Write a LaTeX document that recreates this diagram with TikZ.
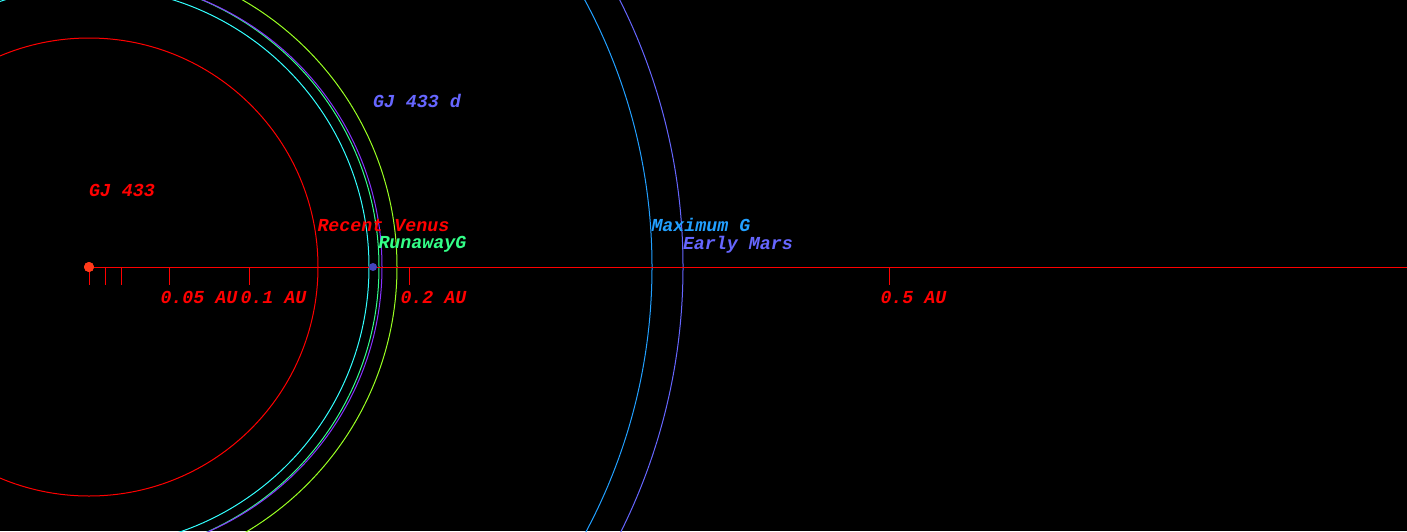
\documentclass[tikz,border=0pt]{standalone}
\usepackage{fontspec}
\newfontfamily\courfont{Liberation Mono}
\definecolor{cRed}{HTML}{FF0000}
\definecolor{cStar}{HTML}{FF3A1A}
\definecolor{cCyan}{HTML}{33FFFF}
\definecolor{cGreen}{HTML}{33FF88}
\definecolor{cPurple}{HTML}{8833FF}
\definecolor{cLime}{HTML}{99FF22}
\definecolor{cMaxG}{HTML}{22A0FF}
\definecolor{cMars}{HTML}{6666FF}
\definecolor{cPlanet}{HTML}{4444BB}
\tikzset{
  lbl/.style={font=\courfont\bfseries\itshape\fontsize{18.3}{20}\selectfont, anchor=base west, inner sep=0pt, outer sep=0pt},
  orb/.style={line width=1pt},
  tick/.style={draw=cRed, line width=1pt}
}
\begin{document}
\begin{tikzpicture}[x=1pt,y=-1pt]
\useasboundingbox (0,0) rectangle (1407,531);
\fill[black] (0,0) rectangle (1407,531);
\begin{scope}
\clip (0,0) rectangle (1407,531);
% habitable zone circles
\draw[orb, cRed] (89,267) circle (229);
\draw[orb, cCyan] (89,267) circle (280);
\draw[orb, cGreen] (89,267) circle (290);
\draw[orb, cPurple] (91.5,267) ellipse (290.5 and 289);
\draw[orb, cLime] (89,267) circle (308);
\draw[orb, cMaxG] (89,267) circle (563);
\draw[orb, cMars] (89,267) circle (594);
\end{scope}
% axis
\coordinate (axend) at (1407,267);
\node[circle, fill=cStar, minimum size=10pt, inner sep=0pt] (star) at (89,267) {};
\draw[cRed, line width=1pt] (star.center) -- (axend);
\foreach \x/\n in {89/t0,105/t1,121/t2,169/t3,249/t4,409/t5,889/t6}{
  \coordinate (\n a) at (\x,267);
  \coordinate (\n b) at (\x,285);
  \draw[tick] (\n a) -- (\n b);
}
\node[circle, fill=cStar, minimum size=10pt, inner sep=0pt] at (89,267) {};
\node[circle, fill=cPlanet, minimum size=8pt, inner sep=0pt] (planet) at (373,267) {};
% labels
\node[lbl, text=cRed] (starlbl) at (89,196) {GJ 433};
\node[lbl, text=cMars] (planetlbl) at (373,107) {GJ 433 d};
\node[lbl, text=cRed] (rv) at (317.5,231) {Recent Venus};
\node[lbl, text=cGreen] (rg) at (378.5,248.5) {RunawayG};
\node[lbl, text=cMaxG] (mg) at (651.5,231) {Maximum G};
\node[lbl, text=cMars] (em) at (683,249) {Early Mars};
\node[lbl, text=cRed] (l1) at (160.5,303) {0.05 AU};
\node[lbl, text=cRed] (l2) at (240.5,303) {0.1 AU};
\node[lbl, text=cRed] (l3) at (400.5,303) {0.2 AU};
\node[lbl, text=cRed] (l4) at (880.5,303) {0.5 AU};
\end{tikzpicture}
\end{document}
